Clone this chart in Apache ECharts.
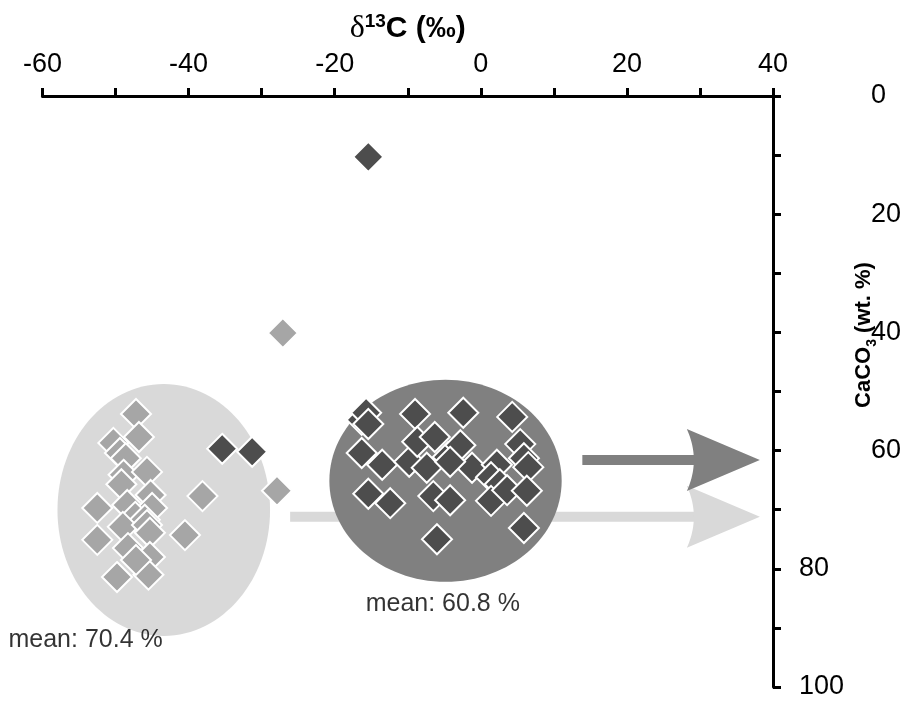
<!DOCTYPE html>
<html><head><meta charset="utf-8">
<script src="https://cdn.jsdelivr.net/npm/echarts@6/dist/echarts.min.js"></script>
<style>html,body{margin:0;padding:0;background:#fff}#c{width:911px;height:707px}</style>
</head><body><div id="c"></div>
<script>
// ---- data ----
const xTickLabels = [-60, -40, -20, 0, 20, 40];
const yTickLabels = [0, 20, 40, 60, 80, 100];
const yFarLabels = [0, 20, 40, 60];

const lightPoints = [
  [-47.2,53.8],[-50.3,58.7],[-46.8,57.7],[-49.4,60.4],[-48.6,61.3],[-48.9,64.1],[-45.7,63.6],
  [-49.2,65.7],[-52.5,69.7],[-48.4,69.2],[-45.2,67.5],[-45.0,69.7],[-47.3,71.2],[-46.0,71.7],
  [-49.0,72.9],[-45.7,72.6],[-52.5,75.1],[-48.3,76.5],[-45.3,73.9],[-45.3,78.0],[-49.8,81.4],
  [-45.5,81.0],[-47.2,78.5],[-40.5,74.3],[-38.1,67.7],[-27.9,66.8],[-27.1,40.1]
];
const darkPoints = [
  [-15.4,10.3],[-35.4,59.7],[-31.3,60.2],
  [-16.3,54.8],[-15.7,53.6],[-15.4,55.5],[-9.0,53.8],[-2.4,53.6],[4.3,54.3],[-16.3,60.4],
  [-13.5,62.4],[-9.8,61.9],[-8.7,58.5],[-6.3,57.7],[-7.4,62.9],[-4.5,61.1],[-2.8,59.1],
  [-1.2,62.9],[-4.2,61.9],[2.2,62.4],[1.4,64.5],[5.4,58.9],[5.9,61.3],[6.5,62.8],[2.6,65.7],
  [-15.4,67.3],[-12.4,68.9],[-6.5,67.7],[-4.2,68.4],[1.4,68.5],[3.6,66.7],[6.3,66.8],
  [-6.0,75.0],[5.9,73.1]
];
// ellipse: [centerX, centerY, widthSpan, heightSpan]
const ellipseLight = [[-43.4, 70.05, 29.1, 42.6]];
const ellipseDark  = [[-4.83, 65.1, 31.8, 34.2]];
// arrows: [xStart, xTip, y]
const arrows = [[-26.1, 38.2, 71.2], [13.9, 38.2, 61.6]];
const meanLabels = [[-5.2, 86.0, 'mean: 60.8 %'], [-54.1, 92.0, 'mean: 70.4 %']];

// ---- chart ----
const FONT = "'Liberation Sans', Arial, sans-serif";
const arrowColors = ['#d9d9d9', '#808080'];

function ellipseRender(color) {
  return function (params, api) {
    const c = api.coord([api.value(0), api.value(1)]);
    const s = api.size([api.value(2), api.value(3)], [api.value(0), api.value(1)]);
    return { type: 'ellipse', shape: { cx: c[0], cy: c[1], rx: s[0] / 2, ry: s[1] / 2 }, style: { fill: color } };
  };
}

function arrowRender(params, api) {
  const y = api.value(2);
  const p0 = api.coord([api.value(0), y]);
  const p1 = api.coord([api.value(1), y]);
  const col = arrowColors[params.dataIndex];
  const headL = 73, headH = 31, shaftH = 10, notch = 7;
  const bx = p1[0] - headL;
  const pts = [[p1[0], p1[1]], [bx, p1[1] - headH]];
  const cx = bx + 2 * notch;
  for (let i = 1; i < 24; i++) {
    const t = i / 24;
    const px = (1 - t) * (1 - t) * bx + 2 * (1 - t) * t * cx + t * t * bx;
    const py = (1 - t) * (1 - t) * (p1[1] - headH) + 2 * (1 - t) * t * p1[1] + t * t * (p1[1] + headH);
    pts.push([px, py]);
  }
  pts.push([bx, p1[1] + headH]);
  return {
    type: 'group', children: [
      { type: 'rect', shape: { x: p0[0], y: p1[1] - shaftH / 2, width: bx + notch + 2 - p0[0], height: shaftH }, style: { fill: col } },
      { type: 'polygon', shape: { points: pts }, style: { fill: col } }
    ]
  };
}

const chart = echarts.init(document.getElementById('c'));
chart.setOption({
  animation: false,
  backgroundColor: '#fff',
  grid: { left: 42.5, right: 138, top: 96, bottom: 20, containLabel: false, outerBoundsMode: 'none' },
  xAxis: {
    type: 'value', position: 'top', min: -60, max: 40, interval: 10,
    splitLine: { show: false },
    axisLine: { onZero: false, lineStyle: { color: '#000', width: 3 } },
    axisTick: { show: true, length: 8, lineStyle: { color: '#000', width: 3 } },
    axisLabel: {
      margin: 18, color: '#000', fontSize: 27, fontFamily: FONT,
      formatter: v => xTickLabels.includes(v) ? String(v) : ''
    },
    name: '{d|δ}{s|13}{b|C (‰)}', nameLocation: 'middle', nameGap: 50, nameMoveOverlap: false,
    nameTextStyle: {
      rich: {
        d: { fontFamily: "'Liberation Serif', 'DejaVu Serif', serif", fontSize: 32, color: '#000' },
        s: { fontFamily: FONT, fontWeight: 'bold', fontSize: 19, color: '#000', verticalAlign: 'top', lineHeight: 34 },
        b: { fontFamily: FONT, fontWeight: 'bold', fontSize: 30, color: '#000' }
      }
    }
  },
  yAxis: {
    type: 'value', position: 'right', inverse: true, min: 0, max: 100, interval: 10,
    splitLine: { show: false },
    axisLine: { onZero: false, lineStyle: { color: '#000', width: 3 } },
    axisTick: { show: true, length: 8, lineStyle: { color: '#000', width: 3 } },
    axisLabel: {
      margin: 26, color: '#000', fontSize: 27, fontFamily: FONT,
      formatter: v => yTickLabels.includes(v) ? (yFarLabels.includes(v) ? '{far|' + v + '}' : '{near|' + v + '}') : '',
      rich: {
        far: { padding: [0, 0, 0, 72], fontSize: 27, fontFamily: FONT, color: '#000' },
        near: { fontSize: 27, fontFamily: FONT, color: '#000' }
      }
    },
    name: '{b|CaCO}{s|3}{b| (wt. %)}', nameLocation: 'middle', nameGap: 76, nameMoveOverlap: false,
    nameTextStyle: {
      padding: [0, 0, 0, 113],
      rich: {
        b: { fontFamily: FONT, fontWeight: 'bold', fontSize: 22, color: '#000' },
        s: { fontFamily: FONT, fontWeight: 'bold', fontSize: 14, color: '#000', verticalAlign: 'bottom', lineHeight: 30 }
      }
    }
  },
  series: [
    { type: 'custom', z: 1, renderItem: ellipseRender('#d9d9d9'), data: ellipseLight, clip: false, silent: true },
    { type: 'custom', z: 2, renderItem: arrowRender, data: arrows, clip: false, silent: true },
    { type: 'custom', z: 3, renderItem: ellipseRender('#808080'), data: ellipseDark, clip: false, silent: true },
    {
      type: 'scatter', z: 4, symbol: 'diamond', symbolSize: 30, data: lightPoints, clip: false,
      itemStyle: { color: '#a6a6a6', borderColor: '#fff', borderWidth: 2, opacity: 1 }
    },
    {
      type: 'scatter', z: 5, symbol: 'diamond', symbolSize: 30, data: darkPoints, clip: false,
      itemStyle: { color: '#4d4d4d', borderColor: '#fff', borderWidth: 2, opacity: 1 }
    },
    {
      type: 'scatter', z: 6, symbolSize: 0, clip: false, silent: true,
      data: meanLabels.map(d => ({ value: [d[0], d[1]], name: d[2] })),
      label: { show: true, position: 'inside', formatter: p => p.name, color: '#000', fontSize: 25, fontFamily: FONT }
    }
  ]
});
</script>
</body></html>
